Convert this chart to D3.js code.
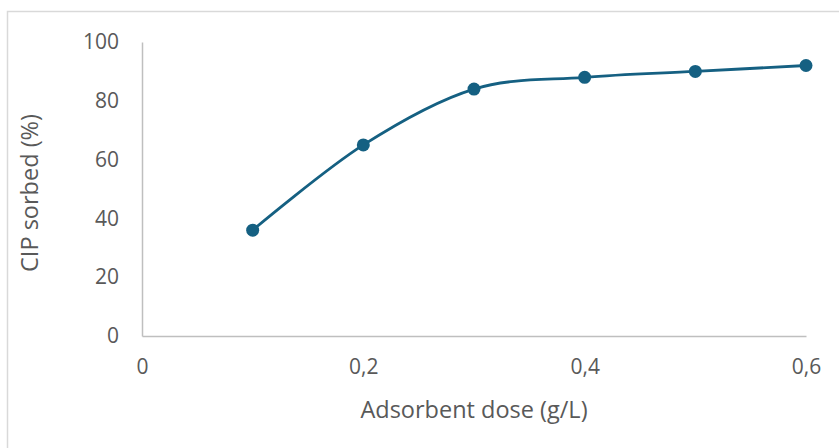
<!DOCTYPE html>
<html>
<head>
<meta charset="utf-8">
<script src="https://cdn.jsdelivr.net/npm/d3@7"></script>
<style>
  html, body { margin: 0; padding: 0; background: #fff; }
  svg { display: block; }
  text { font-family: "Open Sans", "Liberation Sans", Arial, sans-serif; fill: #595959; }
</style>
</head>
<body>
<svg id="chart" width="839" height="448"></svg>
<script>
const doses = [0.1, 0.2, 0.3, 0.4, 0.5, 0.6];
const sorbed = [36, 65, 84, 88, 90, 92];
const xTicks = [0, 0.2, 0.4, 0.6];
const yTicks = [0, 20, 40, 60, 80, 100];
const xTitle = "Adsorbent dose (g/L)";
const yTitle = "CIP sorbed (%)";

const svg = d3.select("#chart");
const W = 839, H = 448;
const m = { left: 142, right: 33, top: 42, bottom: 112 };

svg.append("rect")
  .attr("x", 7.5).attr("y", 11.5)
  .attr("width", W + 10).attr("height", H + 10)
  .attr("fill", "#fff").attr("stroke", "#d9d9d9").attr("stroke-width", 1.5);

const x = d3.scaleLinear().domain([0, 0.6]).range([m.left, W - m.right]);
const y = d3.scaleLinear().domain([0, 100]).range([H - m.bottom, m.top]);

const fmt = d => d === 0 ? "0" : d3.format(".1f")(d).replace(".", ",");

const xAxis = svg.append("g").attr("transform", `translate(0,${y(0)})`)
  .call(d3.axisBottom(x).tickValues(xTicks).tickSize(0).tickPadding(23).tickFormat(fmt));
const yAxis = svg.append("g").attr("transform", `translate(${x(0)},0)`)
  .call(d3.axisLeft(y).tickValues(yTicks).tickSize(0).tickPadding(23).tickFormat(d3.format("d")));

[xAxis, yAxis].forEach(g => {
  g.select(".domain").attr("stroke", "#bfbfbf").attr("stroke-width", 1.5);
  g.selectAll("text").attr("font-size", 21).attr("fill", "#595959")
    .attr("font-family", '"Open Sans", "Liberation Sans", Arial, sans-serif');
});
xAxis.selectAll("text").attr("dy", "0.71em");

svg.append("text")
  .attr("x", (x(0) + x(0.6)) / 2).attr("y", 418)
  .attr("text-anchor", "middle").attr("font-size", 23.5)
  .text(xTitle);
svg.append("text")
  .attr("transform", `translate(38,${(y(0) + y(100)) / 2 + 4}) rotate(-90)`)
  .attr("text-anchor", "middle").attr("font-size", 23.5)
  .text(yTitle);

const pts = doses.map((d, i) => [d, sorbed[i]]);
const line = d3.line().x(d => x(d[0])).y(d => y(d[1])).curve(d3.curveCardinal.tension(0));
svg.append("path").datum(pts)
  .attr("d", line).attr("fill", "none")
  .attr("stroke", "#156082").attr("stroke-width", 2.8);

svg.selectAll("circle.pt").data(pts).enter().append("circle")
  .attr("class", "pt")
  .attr("cx", d => x(d[0])).attr("cy", d => y(d[1]))
  .attr("r", 6.5).attr("fill", "#156082");
</script>
</body>
</html>
